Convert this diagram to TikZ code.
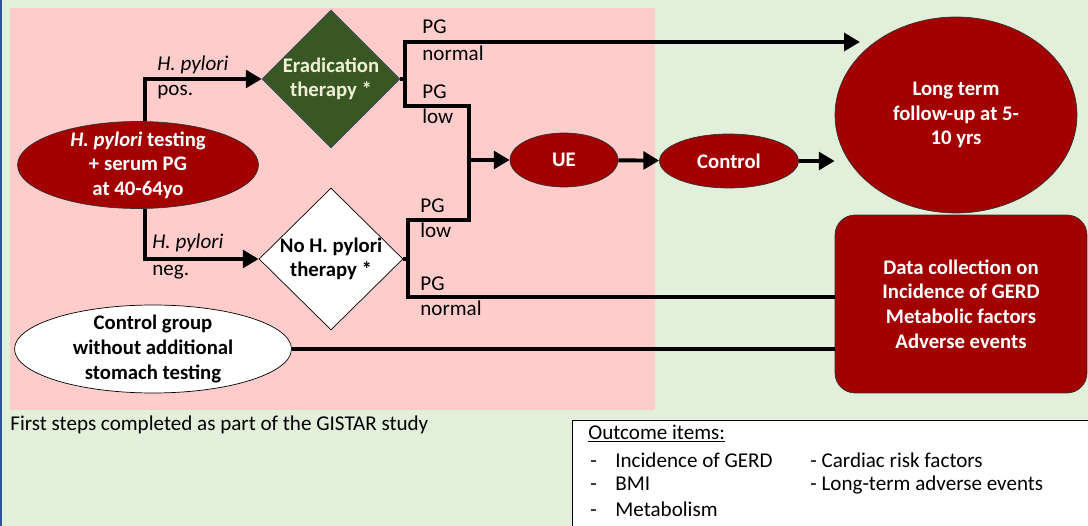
\documentclass[tikz,border=0pt]{standalone}
\usepackage{fontspec}
\setmainfont{Carlito}
\usetikzlibrary{arrows.meta,shapes.geometric,positioning}
\definecolor{bggreen}{RGB}{226,239,218}
\definecolor{pinkbg}{RGB}{255,204,204}
\definecolor{dred}{RGB}{163,0,0}
\definecolor{dgreen}{RGB}{56,87,35}
\definecolor{slate}{RGB}{60,75,100}
\definecolor{cream}{RGB}{240,240,215}
\definecolor{edgeblue}{RGB}{47,84,150}
\newcommand\plainsize{\fontsize{12}{14}\selectfont}
\newcommand\boldsize{\fontsize{11.8}{14}\selectfont\bfseries}
\tikzset{
  flow/.style={line width=2.2pt},
  arr/.style={flow,-{Triangle[length=9pt,width=10pt]}},
  redell/.style={ellipse,draw=black!80,fill=dred,inner sep=0pt},
  wlbl/.style={text=white,font=\boldsize,align=center},
  blbl/.style={text=black,font=\boldsize,align=center},
  lbl/.style={inner sep=0pt,font=\plainsize,text height=1.6ex,text depth=0.4ex}
}
\begin{document}
\begin{tikzpicture}[x=0.02cm,y=-0.02cm]
\useasboundingbox (0,0) rectangle (1088,526);
\fill[bggreen] (0,0) rectangle (1088,526);
\fill[edgeblue] (0,0) rectangle (2.5,526);
\fill[pinkbg] (10,8) rectangle (655,410);

\node[redell,minimum width=4.82cm,minimum height=1.74cm,label={[wlbl]center:{\textit{H. pylori} testing\\+ serum PG\\at 40-64yo}}] (test) at (138,165) {};
\node[diamond,draw=slate,fill=dgreen,minimum width=2.76cm,minimum height=2.76cm,inner sep=0pt,label={[wlbl,text=cream]center:{Eradication\\therapy *}}] (erad) at (331,79) {};
\node[diamond,draw=black,fill=white,minimum width=2.88cm,minimum height=2.84cm,inner sep=0pt,label={[blbl]center:{No H. pylori\\therapy *}}] (noer) at (331,259) {};
\node[redell,minimum width=2.16cm,minimum height=1.08cm,label={[wlbl]center:UE}] (ue) at (564,160) {};
\node[redell,minimum width=2.78cm,minimum height=1.08cm,label={[wlbl]center:Control}] (ctrl) at (729,161) {};
\node[redell,minimum width=4.84cm,minimum height=3.92cm,label={[wlbl]center:{Long term\\follow-up at 5-\\10 yrs}}] (lt) at (956,115) {};
\node[rectangle,rounded corners=0.4cm,draw=black!80,fill=dred,minimum width=5.04cm,minimum height=3.56cm,wlbl] (data) at (961,304) {Data collection on\\Incidence of GERD\\Metabolic factors\\Adverse events};
\node[ellipse,draw=black,fill=white,minimum width=5.54cm,minimum height=1.76cm,inner sep=0pt,label={[blbl]center:{Control group\\without additional\\stomach testing}}] (cg) at (153,349) {};

\coordinate (a1) at (405,42);
\coordinate (a2) at (405,106);
\coordinate (a3) at (469,106);
\coordinate (a4) at (469,220);
\coordinate (a5) at (408,220);
\coordinate (a6) at (408,297);
\coordinate (jm) at (469,160);
\coordinate (t1) at (860,42);

\draw[arr] ([xshift=0.14cm]test.north) |- (erad);
\draw[arr] ([xshift=0.14cm]test.south) |- (noer);
\draw[flow] (erad.east) -- (erad.east -| a1);
\draw[arr] (a3) -- (a2) -- (a1) -- (t1);
\draw[flow] (a2) -- (a3) -- (a4) -- (a5) -- (a6) -- (a6 -| data.west);
\draw[flow] (noer.east) -- (noer.east -| a5);
\draw[arr] (jm) -- (ue);
\draw[arr] (ue) -- (ctrl);
\draw[arr] (ctrl) -- (ctrl -| lt.west);
\draw[flow] (cg) -- (cg -| data.west);

\node[lbl,anchor=west] (hp1) at (157,65) {\textit{H. pylori}};
\node[lbl,anchor=west] (pos) at (157,90) {pos.};
\node[lbl,anchor=west] (hp2) at (152,243) {\textit{H. pylori}};
\node[lbl,anchor=west] (neg) at (152,270) {neg.};
\node[lbl,anchor=west] (pg1) at (422,28) {PG};
\node[lbl,anchor=west] (nm1) at (422,55) {normal};
\node[lbl,anchor=west] (pg2) at (422,93) {PG};
\node[lbl,anchor=west] (lw2) at (422,118) {low};
\node[lbl,anchor=west] (pg3) at (420,207) {PG};
\node[lbl,anchor=west] (lw3) at (420,232) {low};
\node[lbl,anchor=west] (pg4) at (420,285) {PG};
\node[lbl,anchor=west] (nm4) at (420,310) {normal};
\node[lbl,anchor=west] (note) at (10,425) {First steps completed as part of the GISTAR study};

\begin{scope}
\clip (0,0) rectangle (1088,526);
\node[draw,fill=white,line width=0.8pt,anchor=north west,minimum width=10.6cm,minimum height=2.4cm] (outbox) at (572,420) {};
\end{scope}
\node[lbl,anchor=west] (oi) at (588,434) {\underline{Outcome items:}};
\node[lbl,anchor=west] (d1) at (590,462) {-};
\node[lbl,anchor=west] (d2) at (590,485) {-};
\node[lbl,anchor=west] (d3) at (590,511) {-};
\node[lbl,anchor=west] (o1) at (615,462) {Incidence of GERD};
\node[lbl,anchor=west] (o2) at (615,485) {BMI};
\node[lbl,anchor=west] (o3) at (615,511) {Metabolism};
\node[lbl,anchor=west] (o4) at (810,462) {- Cardiac risk factors};
\node[lbl,anchor=west] (o5) at (810,485) {- Long-term adverse events};
\end{tikzpicture}
\end{document}
